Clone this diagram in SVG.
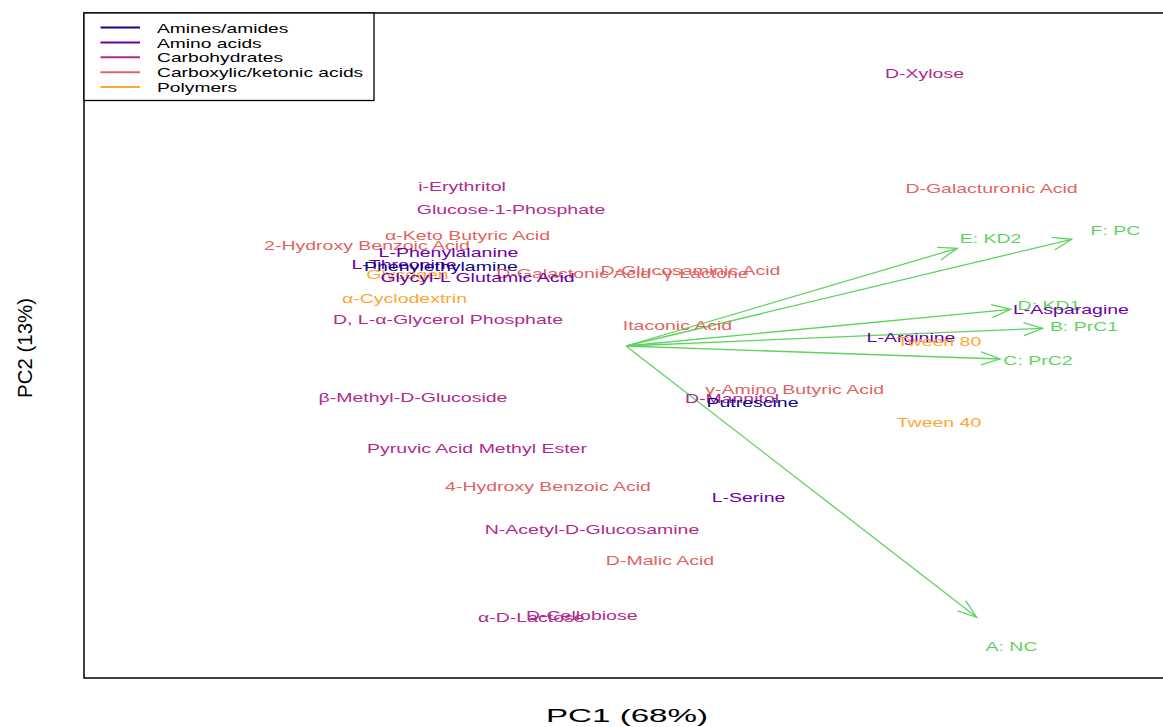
<svg xmlns="http://www.w3.org/2000/svg" width="1163" height="727" viewBox="0 0 1163 727">
<style>
text{font-family:"Liberation Sans",Arial,Helvetica,sans-serif}
.t{font-size:13px;text-anchor:middle}
.lg{font-size:13px;text-anchor:start;fill:#000}
.am{fill:#0D0887}.aa{fill:#6A00A8}.cb{fill:#B12A90}.ck{fill:#E16462}.po{fill:#FCA636}.gr{fill:#5FD35F}
.arr{stroke:#5FD35F;stroke-width:1.3;fill:none;marker-end:url(#ah)}
.ax{font-size:19px;text-anchor:middle;fill:#000}
</style>
<defs>
<marker id="ah" markerUnits="userSpaceOnUse" viewBox="-20 -8 22 16" refX="0" refY="0" markerWidth="22" markerHeight="16" orient="auto" overflow="visible">
<path d="M-19,-6.5 L0,0 L-19,6.5" fill="none" stroke="#5FD35F" stroke-width="1.3"/>
</marker>
</defs>
<rect x="0" y="0" width="1163" height="727" fill="#fff"/>
<rect x="84" y="13" width="1092" height="665" fill="none" stroke="#000" stroke-width="1.5"/>

<g id="legend">
<rect x="84" y="13" width="290" height="87.5" fill="#fff" stroke="#000" stroke-width="1.3"/>
<line x1="100.5" y1="27.5" x2="140" y2="27.5" stroke="#0D0887" stroke-width="2"/>
<line x1="100.5" y1="42.5" x2="140" y2="42.5" stroke="#6A00A8" stroke-width="2"/>
<line x1="100.5" y1="57.3" x2="140" y2="57.3" stroke="#B12A90" stroke-width="2"/>
<line x1="100.5" y1="72.2" x2="140" y2="72.2" stroke="#E16462" stroke-width="2"/>
<line x1="100.5" y1="87.1" x2="140" y2="87.1" stroke="#FCA636" stroke-width="2"/>
<text class="lg" transform="translate(157,32.7) scale(1.48,1)">Amines/amides</text>
<text class="lg" transform="translate(157,47.5) scale(1.48,1)">Amino acids</text>
<text class="lg" transform="translate(157,62.3) scale(1.48,1)">Carbohydrates</text>
<text class="lg" transform="translate(157,77) scale(1.48,1)">Carboxylic/ketonic acids</text>
<text class="lg" transform="translate(157,91.7) scale(1.48,1)">Polymers</text>
</g>

<g id="connectors">
<line class="arr" x1="626" y1="346" x2="957.3" y2="248.3"/>
<line class="arr" x1="626" y1="346" x2="1071.7" y2="239.3"/>
<line class="arr" x1="626" y1="346" x2="1010.7" y2="309.3"/>
<line class="arr" x1="626" y1="346" x2="1042.7" y2="328.3"/>
<line class="arr" x1="626" y1="346" x2="1000" y2="359"/>
<line class="arr" x1="626" y1="346" x2="976.7" y2="617.3"/>
</g>

<g id="n-xylose"><text class="t cb" transform="translate(924.5,78) scale(1.5,1)">D-Xylose</text></g>
<g id="n-erythritol"><text class="t cb" transform="translate(462,191) scale(1.5,1)">i-Erythritol</text></g>
<g id="n-glucose1p"><text class="t cb" transform="translate(511,213.5) scale(1.5,1)">Glucose-1-Phosphate</text></g>
<g id="n-galacturonic"><text class="t ck" transform="translate(991.5,192.5) scale(1.5,1)">D-Galacturonic Acid</text></g>
<g id="n-ketobutyric"><text class="t ck" transform="translate(467.5,239.5) scale(1.5,1)">α-Keto Butyric Acid</text></g>
<g id="n-2hydroxybenzoic"><text class="t ck" transform="translate(367,249.5) scale(1.5,1)">2-Hydroxy Benzoic Acid</text></g>
<g id="n-phenylalanine"><text class="t aa" transform="translate(448.5,256.5) scale(1.5,1)">L-Phenylalanine</text></g>
<g id="n-threonine"><text class="t aa" transform="translate(404,269) scale(1.5,1)">L-Threonine</text></g>
<g id="n-phenylethylamine"><text class="t am" transform="translate(441,271) scale(1.5,1)">Phenylethylamine</text></g>
<g id="n-glycogen"><text class="t po" transform="translate(407.5,278.8) scale(1.5,1)">Glycogen</text></g>
<g id="n-galactonic"><text class="t ck" transform="translate(622.5,278) scale(1.5,1)">D-Galactonic Acid -γ-Lactone</text></g>
<g id="n-glycylglutamic"><text class="t aa" transform="translate(477.5,282) scale(1.5,1)">Glycyl-L Glutamic Acid</text></g>
<g id="n-glucosaminic"><text class="t ck" transform="translate(690.5,274.5) scale(1.5,1)">D-Glucosaminic Acid</text></g>
<g id="n-cyclodextrin"><text class="t po" transform="translate(404.5,302.5) scale(1.5,1)">α-Cyclodextrin</text></g>
<g id="n-glycerolp"><text class="t cb" transform="translate(448,323.5) scale(1.5,1)">D, L-α-Glycerol Phosphate</text></g>
<g id="n-itaconic"><text class="t ck" transform="translate(677.5,329.5) scale(1.5,1)">Itaconic Acid</text></g>
<g id="n-methylglucoside"><text class="t cb" transform="translate(413,401.5) scale(1.5,1)">β-Methyl-D-Glucoside</text></g>
<g id="n-pyruvic"><text class="t cb" transform="translate(477,452.5) scale(1.5,1)">Pyruvic Acid Methyl Ester</text></g>
<g id="n-4hydroxybenzoic"><text class="t ck" transform="translate(548,490.5) scale(1.5,1)">4-Hydroxy Benzoic Acid</text></g>
<g id="n-serine"><text class="t aa" transform="translate(748.5,501.5) scale(1.5,1)">L-Serine</text></g>
<g id="n-acetylglucosamine"><text class="t cb" transform="translate(592,533.5) scale(1.5,1)">N-Acetyl-D-Glucosamine</text></g>
<g id="n-malic"><text class="t ck" transform="translate(660,564.5) scale(1.5,1)">D-Malic Acid</text></g>
<g id="n-lactose"><text class="t cb" transform="translate(531.3,621.8) scale(1.5,1)">α-D-Lactose</text></g>
<g id="n-cellobiose"><text class="t cb" transform="translate(581.7,619.5) scale(1.5,1)">D-Cellobiose</text></g>
<g id="n-aminobutyric"><text class="t ck" transform="translate(794.7,394.2) scale(1.5,1)">γ-Amino Butyric Acid</text></g>
<g id="n-mannitol"><text class="t cb" transform="translate(732,402.8) scale(1.5,1)">D-Mannitol</text></g>
<g id="n-putrescine"><text class="t am" transform="translate(752.5,406.8) scale(1.5,1)">Putrescine</text></g>
<g id="n-tween40"><text class="t po" transform="translate(939,426.5) scale(1.5,1)">Tween 40</text></g>
<g id="n-arginine"><text class="t aa" transform="translate(911,341.5) scale(1.5,1)">L-Arginine</text></g>
<g id="n-tween80"><text class="t po" transform="translate(939,345.5) scale(1.5,1)">Tween 80</text></g>
<g id="n-kd1"><text class="t gr" transform="translate(1049,309.5) scale(1.5,1)">D: KD1</text></g>
<g id="n-asparagine"><text class="t aa" transform="translate(1071,313.8) scale(1.5,1)">L-Asparagine</text></g>
<g id="n-prc1"><text class="t gr" transform="translate(1084,331.2) scale(1.5,1)">B: PrC1</text></g>
<g id="n-prc2"><text class="t gr" transform="translate(1038,365.2) scale(1.5,1)">C: PrC2</text></g>
<g id="n-kd2"><text class="t gr" transform="translate(990.5,242.5) scale(1.5,1)">E: KD2</text></g>
<g id="n-pc"><text class="t gr" transform="translate(1115.5,234.5) scale(1.5,1)">F: PC</text></g>
<g id="n-nc"><text class="t gr" transform="translate(1011.5,650.5) scale(1.5,1)">A: NC</text></g>

<g id="axis-labels">
<text class="ax" x="627" y="722" textLength="162" lengthAdjust="spacingAndGlyphs">PC1 (68%)</text>
<text class="ax" style="font-size:21px" transform="translate(31.5,348) rotate(-90)" textLength="100" lengthAdjust="spacingAndGlyphs">PC2 (13%)</text>
</g>
</svg>
